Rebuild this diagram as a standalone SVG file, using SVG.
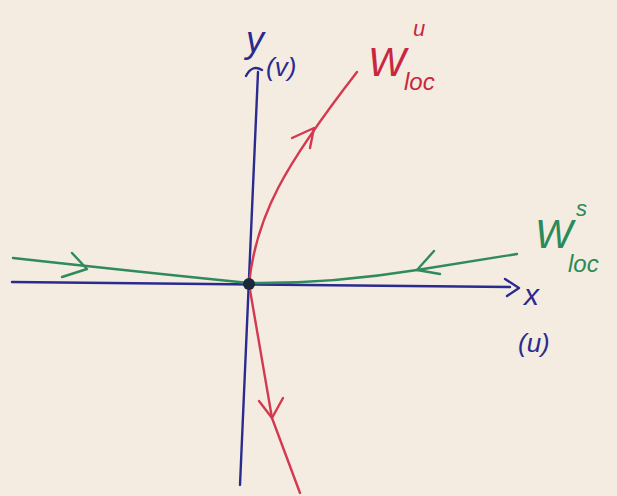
<svg xmlns="http://www.w3.org/2000/svg" width="617" height="496" viewBox="0 0 617 496">
<style>
.pen{fill:none;stroke-width:2.4;stroke-linecap:round;stroke-linejoin:round}
.blue{stroke:#2b2a8f}
.red{stroke:#d3394f}
.green{stroke:#2f8a5c}
.t{font-family:"Liberation Sans",sans-serif;font-style:italic}
.tb{fill:#2b2a8f}
.tr{fill:#c8283f}
.tg{fill:#2a8a58}
</style>
<rect width="617" height="496" fill="#f4ece1"/>
<g id="axes">
  <path class="pen blue" d="M12 282 L510 287"/>
  <path class="pen blue" d="M505 279 L519 288 L507 296"/>
  <path class="pen blue" d="M240 485 L258 72"/>
  <path class="pen blue" d="M246 76 Q252 64 262 70"/>
  <text class="t tb" x="246" y="52" font-size="36">y</text>
  <text class="t tb" x="266" y="76" font-size="26">(v)</text>
  <text class="t tb" x="524" y="305" font-size="30">x</text>
  <text class="t tb" x="518" y="352" font-size="26">(u)</text>
</g>
<g id="unstable-manifold">
  <path class="pen red" d="M300 493 L272 418 L249 284 C256 215 285 165 357 72"/>
  <path class="pen red" d="M292 138 L314 128 L310 148"/>
  <path class="pen red" d="M259 401 L272 418 L283 398"/>
  <text class="t tr" x="368" y="76" font-size="40">W</text>
  <text class="t tr" x="413" y="36" font-size="22">u</text>
  <text class="t tr" x="404" y="90" font-size="24">loc</text>
</g>
<g id="stable-manifold">
  <path class="pen green" d="M13 258 Q140 272 249 283 Q330 284 417 270 L517 254"/>
  <path class="pen green" d="M72 253 L87 269 L62 277"/>
  <path class="pen green" d="M434 251 L417 270 L440 274"/>
  <text class="t tg" x="535" y="248" font-size="40">W</text>
  <text class="t tg" x="576" y="216" font-size="22">s</text>
  <text class="t tg" x="568" y="272" font-size="24">loc</text>
</g>
<g id="origin">
  <circle cx="249" cy="284" r="6" fill="#1a2a3a"/>
</g>
</svg>
